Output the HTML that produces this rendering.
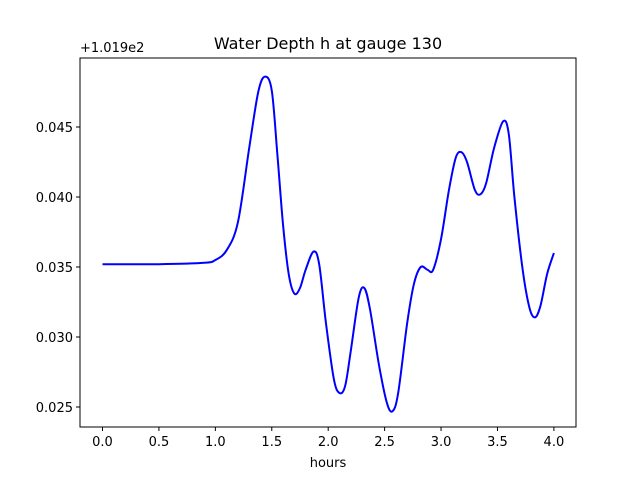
<!DOCTYPE html>
<html><head><meta charset="utf-8"><style>
body{margin:0;background:#fff;font-family:"Liberation Sans","DejaVu Sans",sans-serif}
svg text{font-family:"DejaVu Sans","Liberation Sans",sans-serif;font-size:13px;fill:#000}
</style></head><body>
<svg width="640" height="480">
<rect width="640" height="480" fill="#fff"/>
<text x="328" y="49" text-anchor="middle" style="font-size:16px">Water Depth h at gauge 130</text>
<text x="80" y="52" style="font-size:13px">+1.019e2</text>
<g id="ticks"></g>
<path id="line" fill="none" stroke="#0000ff" stroke-width="2"/>
<rect x="80" y="58" width="496" height="369" fill="none" stroke="#000" stroke-width="1"/>
<text x="328" y="467" text-anchor="middle">hours</text>
</svg>
<script>
const xs=[0,0.5,0.9,1.0,1.1,1.2,1.3,1.38,1.44,1.5,1.55,1.6,1.65,1.7,1.75,1.8,1.87,1.92,1.98,2.05,2.1,2.15,2.2,2.27,2.32,2.37,2.45,2.52,2.57,2.62,2.7,2.76,2.82,2.88,2.93,3.0,3.07,3.13,3.18,3.23,3.3,3.35,3.4,3.47,3.55,3.6,3.65,3.72,3.78,3.83,3.88,3.94,4.0];
const ys=[0.0352,0.0352,0.0353,0.0355,0.0362,0.0382,0.0435,0.0475,0.0486,0.0476,0.043,0.038,0.0345,0.0331,0.0335,0.0348,0.0361,0.0352,0.031,0.027,0.026,0.0265,0.029,0.0328,0.0335,0.032,0.028,0.0253,0.0247,0.026,0.031,0.0338,0.035,0.0348,0.0348,0.037,0.0405,0.0428,0.0432,0.0425,0.0405,0.0402,0.041,0.0435,0.0454,0.0445,0.040,0.035,0.0322,0.0314,0.0322,0.0345,0.036];
const xTicks=[0,0.5,1.0,1.5,2.0,2.5,3.0,3.5,4.0];
const yTicks=[0.025,0.030,0.035,0.040,0.045];
const X=v=>102.5+(v-0)*112.85;
const Y=v=>407-(v-0.025)*14000;
const NS="http://www.w3.org/2000/svg";
const g=document.getElementById('ticks');
function mk(t,a){const e=document.createElementNS(NS,t);for(const k in a)e.setAttribute(k,a[k]);g.appendChild(e);return e;}
xTicks.forEach(t=>{
 const l=mk('line',{x1:X(t),x2:X(t),y1:427,y2:431,stroke:'#000'});
 
 
 const s=mk('text',{x:X(t),y:446,'text-anchor':'middle'});s.textContent=t.toFixed(1);
 
 
});
yTicks.forEach(t=>{
 const l=mk('line',{x1:76,x2:80,y1:Y(t),y2:Y(t),stroke:'#000'});
 
 
 const s=mk('text',{x:73,y:Y(t)+5,'text-anchor':'end'});s.textContent=t.toFixed(3);
 
 
});
const P=xs.map((x,i)=>[X(x),Y(ys[i])]);
let d='M'+P[0][0]+','+P[0][1];
for(let i=0;i<P.length-1;i++){
 const p0=P[Math.max(0,i-1)],p1=P[i],p2=P[i+1],p3=P[Math.min(P.length-1,i+2)];
 const c1=[p1[0]+(p2[0]-p0[0])/6,p1[1]+(p2[1]-p0[1])/6];
 const c2=[p2[0]-(p3[0]-p1[0])/6,p2[1]-(p3[1]-p1[1])/6];
 d+=`C${c1[0]},${c1[1]} ${c2[0]},${c2[1]} ${p2[0]},${p2[1]}`;
}
document.getElementById('line').setAttribute('d',d);
</script>
</body></html>
